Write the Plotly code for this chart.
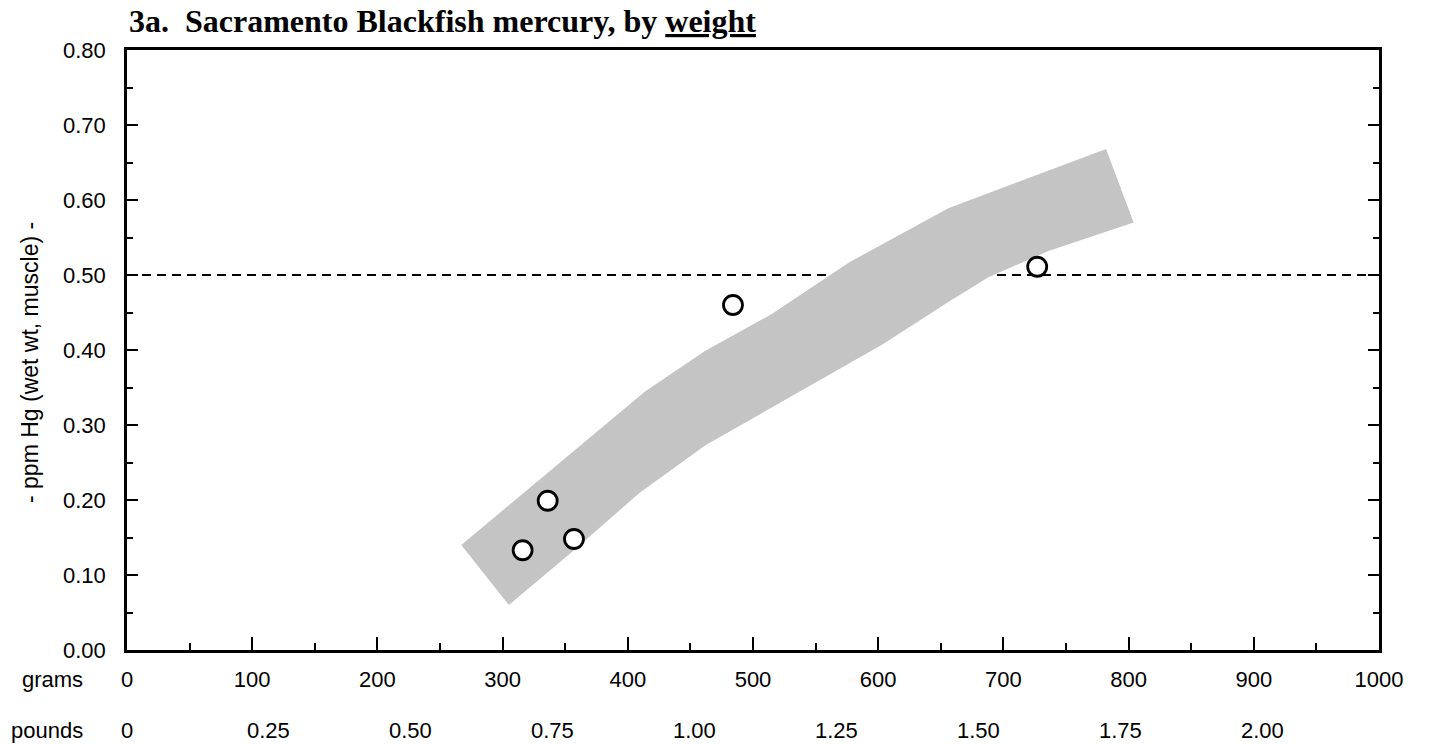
import plotly.graph_objects as go

# Sacramento Blackfish: fish weight (g) vs muscle mercury (ppm, wet wt)
weight_g = [316, 336, 357, 484, 727]
mercury_ppm = [0.133, 0.199, 0.148, 0.460, 0.511]

# shaded trend band: upper edge (left -> right), then lower edge (right -> left)
band_upper_g = [267, 341, 414, 462, 515, 577, 656, 710, 782]
band_upper_ppm = [0.140, 0.243, 0.345, 0.399, 0.448, 0.517, 0.589, 0.623, 0.668]
band_lower_g = [804, 736, 688, 656, 603, 515, 462, 409, 357, 305]
band_lower_ppm = [0.570, 0.532, 0.497, 0.464, 0.407, 0.324, 0.273, 0.209, 0.133, 0.060]

# consumption guideline level
guideline_ppm = 0.50

grams_ticks = list(range(0, 1001, 100))
pound_ticks = [0, 0.25, 0.50, 0.75, 1.00, 1.25, 1.50, 1.75, 2.00]
pound_labels = ["0", "0.25", "0.50", "0.75", "1.00", "1.25", "1.50", "1.75", "2.00"]
GRAMS_PER_POUND = 453.592

SANS = "Liberation Sans, Arial, Helvetica, sans-serif"
SERIF = "Liberation Serif, Times New Roman, serif"

fig = go.Figure()

fig.add_trace(go.Scatter(
    x=[0, 1000], y=[guideline_ppm, guideline_ppm],
    mode="lines", line=dict(color="black", width=1.8, dash="9px,6px"),
    hoverinfo="skip", showlegend=False,
))

fig.add_trace(go.Scatter(
    x=band_upper_g + band_lower_g,
    y=band_upper_ppm + band_lower_ppm,
    mode="lines", fill="toself", fillcolor="#c4c4c4",
    line=dict(width=0, color="#c4c4c4"),
    hoverinfo="skip", showlegend=False,
))

fig.add_trace(go.Scatter(
    x=weight_g, y=mercury_ppm, mode="markers",
    marker=dict(symbol="circle", size=19, color="white",
                line=dict(color="black", width=2.8)),
    showlegend=False,
))

fig.update_xaxes(
    range=[0, 1000], tickvals=grams_ticks,
    ticks="inside", ticklen=13, tickwidth=2, tickcolor="black",
    minor=dict(dtick=50, tick0=0, ticks="inside", ticklen=7, tickwidth=2, tickcolor="black"),
    showline=True, linecolor="black", linewidth=2.5, mirror=True,
    showgrid=False, zeroline=False,
    tickfont=dict(family=SANS, size=22, color="black"),
    ticklabelstandoff=8,
)
fig.update_yaxes(
    range=[0, 0.8], dtick=0.1, tick0=0, tickformat=".2f",
    ticks="inside", ticklen=11, tickwidth=2, tickcolor="black",
    minor=dict(dtick=0.05, ticks="inside", ticklen=6, tickwidth=2, tickcolor="black"),
    showline=True, linecolor="black", linewidth=2.5, mirror="ticks",
    showgrid=False, zeroline=False,
    tickfont=dict(family=SANS, size=22, color="black"),
    ticklabelstandoff=14,
)

annotations = [
    dict(text="3a.\u00a0 Sacramento Blackfish mercury, by <u>weight</u>",
         xref="paper", yref="paper", x=0.0, y=1.0, xanchor="left", yanchor="bottom",
         yshift=9, showarrow=False,
         font=dict(family=SERIF, size=32, color="black", weight="bold")),
    dict(text="- ppm Hg (wet wt, muscle) -", textangle=-90,
         xref="paper", yref="paper", x=-0.0775, y=0.48, xanchor="center", yanchor="middle",
         showarrow=False, font=dict(family=SANS, size=23, color="black")),
    dict(text="grams", xref="paper", yref="paper", x=-0.0336, y=0, xanchor="right",
         yanchor="middle", yshift=-29, showarrow=False,
         font=dict(family=SANS, size=22, color="black")),
    dict(text="pounds", xref="paper", yref="paper", x=-0.0336, y=0, xanchor="right",
         yanchor="middle", yshift=-80, showarrow=False,
         font=dict(family=SANS, size=22, color="black")),
]
for lb, lab in zip(pound_ticks, pound_labels):
    annotations.append(dict(
        text=lab, xref="x", yref="paper", x=lb * GRAMS_PER_POUND, y=0,
        xanchor="center", yanchor="middle", yshift=-80, showarrow=False,
        font=dict(family=SANS, size=22, color="black"),
    ))

fig.update_layout(
    width=1436, height=744,
    margin=dict(l=127, r=57, t=50, b=94),
    paper_bgcolor="white", plot_bgcolor="white",
    annotations=annotations,
)

fig.write_html("out.html")
